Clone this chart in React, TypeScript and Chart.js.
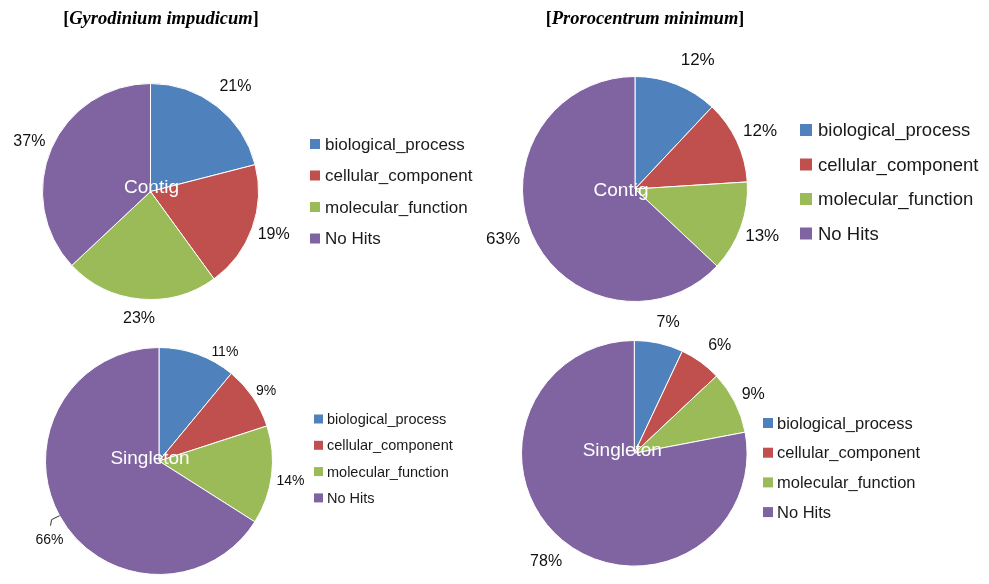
import React, { useEffect, useRef } from 'react';
import { Chart, registerables } from 'chart.js';

Chart.register(...registerables);

const W = 989;
const H = 584;

const categories = ['biological_process', 'cellular_component', 'molecular_function', 'No Hits'];
const gyroContig = [21, 19, 23, 37];
const proroContig = [12, 12, 13, 63];
const gyroSingleton = [11, 9, 14, 66];
const proroSingleton = [7, 6, 9, 78];
const sliceColors = ['#4F81BD', '#C0504D', '#9BBB59', '#8064A2'];

const SANS = '"Liberation Sans", Arial, sans-serif';
const SERIF = '"Liberation Serif", "Times New Roman", serif';

type Panel = {
  values: number[];
  cx: number; cy: number; r: number;
  center: string; cdx: number; cdy: number; centerFont: number;
  labelOff: number; labelFont: number; nudge: number[][];
  legendX: number; legendY: number; legendGap: number; legendFont: number; box: number; textX: number;
  title?: string; titleX?: number; titleY?: number;
  leader?: { index: number; pts: number[][] };
};

const panels: Panel[] = [
  {
    values: gyroContig, cx: 150.5, cy: 191.5, r: 108.5,
    center: 'Contig', cdx: 1, cdy: -4, centerFont: 19,
    labelOff: 24, labelFont: 16, nudge: [[4, -1], [-1, -2], [1, -4], [0, 3]],
    legendX: 310, legendY: 144, legendGap: 31.5, legendFont: 17, box: 10, textX: 325,
    title: 'Gyrodinium impudicum', titleX: 161, titleY: 19,
  },
  {
    values: proroContig, cx: 635, cy: 189, r: 113,
    center: 'Contig', cdx: -14, cdy: 2, centerFont: 19,
    labelOff: 28, labelFont: 17, nudge: [[11, 2], [-2, 2], [-5, 0], [-3, -5]],
    legendX: 800, legendY: 130, legendGap: 34.5, legendFont: 18.5, box: 12, textX: 818,
    title: 'Prorocentrum minimum', titleX: 645, titleY: 19,
  },
  {
    values: gyroSingleton, cx: 159, cy: 461, r: 114,
    center: 'Singleton', cdx: -9, cdy: -2, centerFont: 19,
    labelOff: 16, labelFont: 14, nudge: [[22, 13], [0, 3], [3, 4], [4, 17]],
    legendX: 314, legendY: 419, legendGap: 26.3, legendFont: 14.5, box: 9, textX: 327,
    leader: { index: 3, pts: [[-8, 4], [-9, 10]] },
  },
  {
    values: proroSingleton, cx: 634.3, cy: 453.3, r: 113.3,
    center: 'Singleton', cdx: -12, cdy: -3, centerFont: 19,
    labelOff: 24, labelFont: 16, nudge: [[4, 3], [5, 3], [-3, 3], [-1, 3]],
    legendX: 763, legendY: 423, legendGap: 29.7, legendFont: 16.5, box: 10, textX: 777,
  },
];

const decorPlugin = {
  id: 'pieDecor',
  afterDatasetsDraw(chart: any, _args: any, opts: any) {
    const p: Panel = opts.panel;
    if (!p) return;
    const ctx: CanvasRenderingContext2D = chart.ctx;
    const meta = chart.getDatasetMeta(0);
    const values = chart.data.datasets[0].data as number[];
    ctx.save();
    let cx = 0, cy = 0;
    meta.data.forEach((arc: any, i: number) => {
      const { x, y, startAngle, endAngle, outerRadius } = arc.getProps(['x', 'y', 'startAngle', 'endAngle', 'outerRadius'], true);
      cx = x; cy = y;
      const mid = (startAngle + endAngle) / 2;
      const d = outerRadius + p.labelOff;
      const n = p.nudge[i] || [0, 0];
      const lx = x + Math.cos(mid) * d + n[0];
      const ly = y + Math.sin(mid) * d + n[1];
      ctx.fillStyle = '#111';
      ctx.font = `${p.labelFont}px ${SANS}`;
      ctx.textAlign = 'center';
      ctx.textBaseline = 'middle';
      ctx.fillText(values[i] + '%', lx, ly);
      if (p.leader && p.leader.index === i) {
        const ex = x + Math.cos(mid) * outerRadius;
        const ey = y + Math.sin(mid) * outerRadius;
        ctx.strokeStyle = '#333';
        ctx.lineWidth = 1;
        ctx.beginPath();
        ctx.moveTo(ex, ey);
        p.leader.pts.forEach((pt) => ctx.lineTo(ex + pt[0], ey + pt[1]));
        ctx.stroke();
      }
    });
    // center text
    ctx.fillStyle = '#fff';
    ctx.font = `${p.centerFont}px ${SANS}`;
    ctx.textAlign = 'center';
    ctx.textBaseline = 'middle';
    ctx.fillText(p.center, cx + p.cdx, cy + p.cdy);
    // legend
    categories.forEach((c, i) => {
      const yy = p.legendY + i * p.legendGap;
      ctx.fillStyle = sliceColors[i];
      ctx.fillRect(p.legendX, yy - p.box / 2, p.box, p.box);
      ctx.fillStyle = '#1a1a1a';
      ctx.font = `${p.legendFont}px ${SANS}`;
      ctx.textAlign = 'left';
      ctx.textBaseline = 'middle';
      ctx.fillText(c, p.textX, yy + 1);
    });
    // title
    if (p.title) {
      const bf = `bold 18px ${SERIF}`;
      const bif = `italic bold 18.5px ${SERIF}`;
      ctx.fillStyle = '#000';
      ctx.textBaseline = 'middle';
      ctx.textAlign = 'left';
      ctx.font = bf;
      const wb = ctx.measureText('[').width;
      const we = ctx.measureText(']').width;
      ctx.font = bif;
      const wt = ctx.measureText(p.title).width;
      const total = wb + wt + we;
      let x0 = (p.titleX as number) - total / 2;
      const ty = p.titleY as number;
      ctx.font = bf;
      ctx.fillText('[', x0, ty);
      x0 += wb;
      ctx.font = bif;
      ctx.fillText(p.title, x0, ty);
      x0 += wt;
      ctx.font = bf;
      ctx.fillText(']', x0, ty);
    }
    ctx.restore();
  },
};

function PieCanvas({ panel }: { panel: Panel }) {
  const ref = useRef<HTMLCanvasElement>(null);
  useEffect(() => {
    if (!ref.current) return;
    const chart = new Chart(ref.current, {
      type: 'pie',
      data: {
        labels: categories,
        datasets: [
          {
            data: panel.values,
            backgroundColor: sliceColors,
            borderColor: '#ffffff',
            borderWidth: 1,
          },
        ],
      },
      options: {
        animation: false,
        responsive: false,
        events: [],
        layout: {
          padding: {
            left: panel.cx - panel.r,
            top: panel.cy - panel.r,
            right: W - (panel.cx + panel.r),
            bottom: H - (panel.cy + panel.r),
          },
        },
        plugins: {
          legend: { display: false },
          tooltip: { enabled: false },
          pieDecor: { panel },
        } as any,
      },
      plugins: [decorPlugin],
    });
    return () => chart.destroy();
  }, [panel]);
  return (
    <canvas
      ref={ref}
      width={W}
      height={H}
      style={{ position: 'absolute', left: 0, top: 0, width: W, height: H }}
    />
  );
}

export default function App() {
  return (
    <div style={{ position: 'absolute', left: 0, top: 0, width: W, height: H, background: '#fff', overflow: 'hidden' }}>
      {panels.map((p, i) => (
        <PieCanvas key={i} panel={p} />
      ))}
    </div>
  );
}
